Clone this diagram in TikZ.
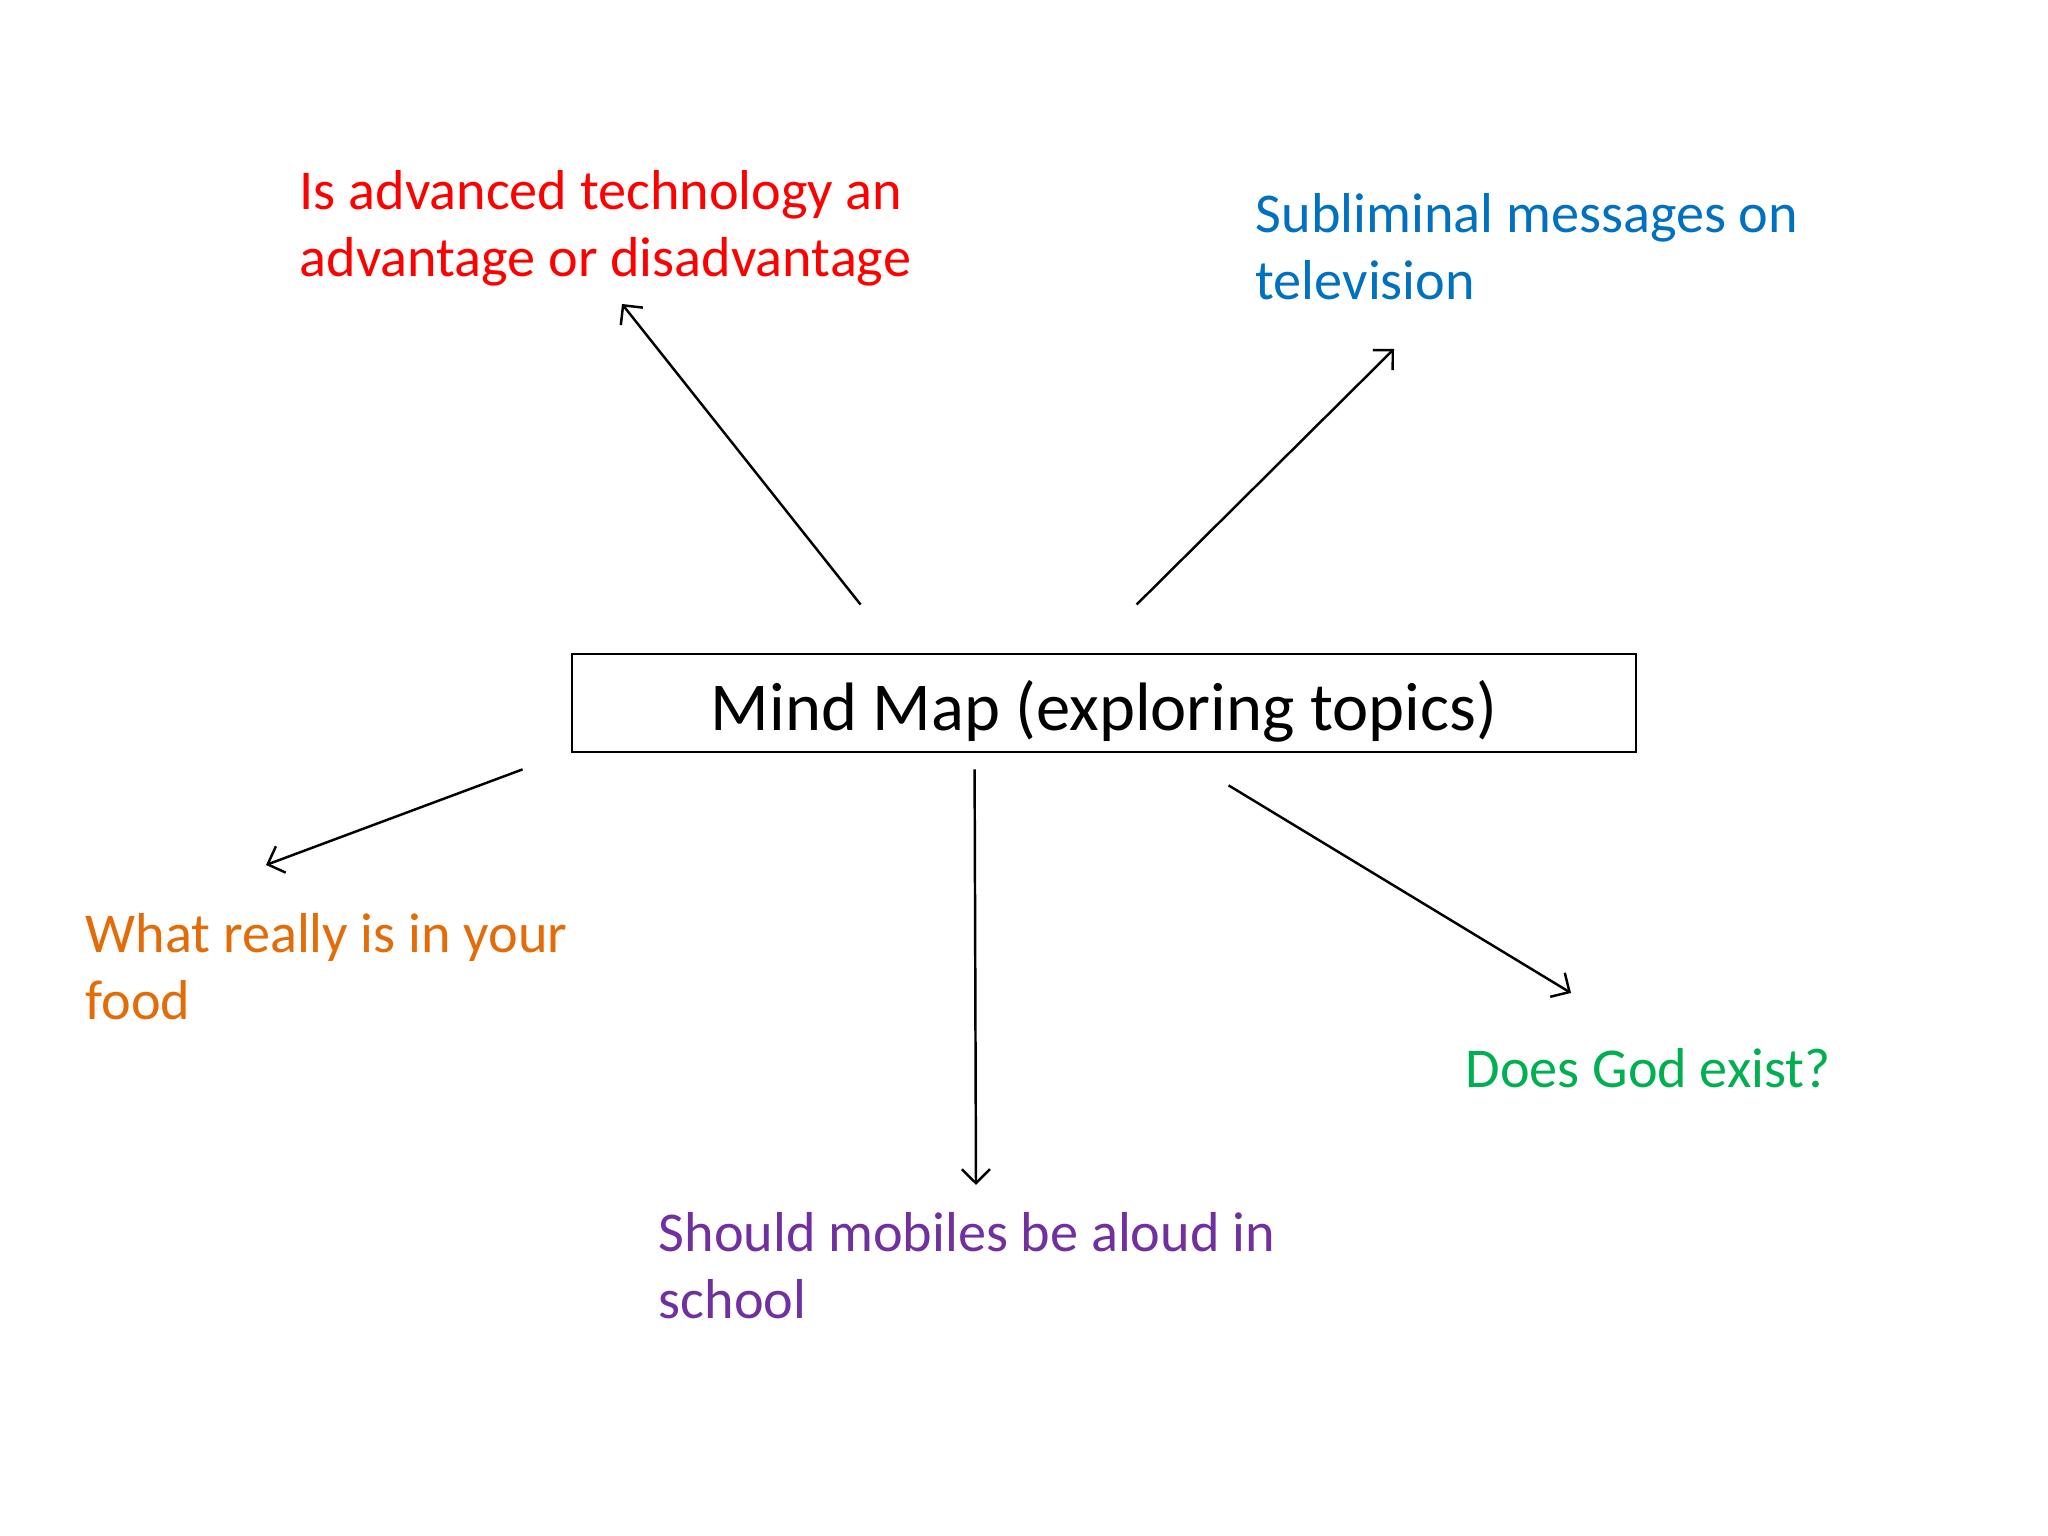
\documentclass[tikz,border=0pt]{standalone}
\usepackage{fontspec}
\setmainfont{Carlito}
\usetikzlibrary{arrows.meta,positioning}
\definecolor{techred}{HTML}{FF0000}
\definecolor{tvblue}{HTML}{0070C0}
\definecolor{foodorange}{HTML}{E36C09}
\definecolor{godgreen}{HTML}{00B050}
\definecolor{mobpurple}{HTML}{7030A0}
\tikzset{
    topic/.style={inner sep=0pt, anchor=base west, align=left, font=\fontsize{16}{19.3}\selectfont},
    link/.style={line width=0.7pt, -{Straight Barb[length=4pt,width=8pt]}}
}

\begin{document}
\begin{tikzpicture}
    \useasboundingbox[fill=white] (0,0) rectangle (20.48,15.36);

    % Central box
    \node[draw, line width=0.8pt, minimum width=10.64cm, minimum height=0.98cm, inner sep=0pt,
          font=\fontsize{19.5}{23}\selectfont] (map) at (11.04,8.33)
          {\raisebox{-0.08cm}[\height][\depth]{Mind Map (exploring topics)}};

    % Topics (placed at the baseline of their last line)
    \node[topic, techred] (tech) at (2.99,12.59) {Is advanced technology an\\advantage or disadvantage};
    \node[topic, tvblue] (tv) at (12.55,12.36) {Subliminal messages on\\television};
    \node[topic, foodorange] (food) at (0.85,5.16) {What really is in your\\food};
    \node[topic, mobpurple] (mob) at (6.58,2.17) {Should mobiles be aloud in\\school};
    \node[topic, godgreen] (god) at (14.65,4.48) {Does God exist?};

    % Arrow ends
    \coordinate (tech-tail) at ([shift={(2.90,0.48)}]map.north west);
    \coordinate (tv-tail) at ([shift={(5.66,0.48)}]map.north west);
    \coordinate (food-tail) at ([shift={(-0.48,-0.16)}]map.south west);
    \coordinate (mob-tail) at ([shift={(4.04,-0.16)}]map.south west);
    \coordinate (god-tail) at ([shift={(6.58,-0.32)}]map.south west);
    \coordinate (tech-head) at ([shift={(3.23,-0.27)}]tech.base west);
    \coordinate (tv-head) at ([shift={(1.39,-0.49)}]tv.base west);
    \coordinate (food-head) at ([shift={(1.81,1.55)}]food.base west);
    \coordinate (mob-head) at ([shift={(3.18,1.34)}]mob.base west);
    \coordinate (god-head) at ([shift={(1.06,0.95)}]god.base west);

    % Arrows
    \foreach \t in {tech,tv,food,mob,god} {
        \draw[link] (\t-tail) -- (\t-head);
    }
\end{tikzpicture}
\end{document}
